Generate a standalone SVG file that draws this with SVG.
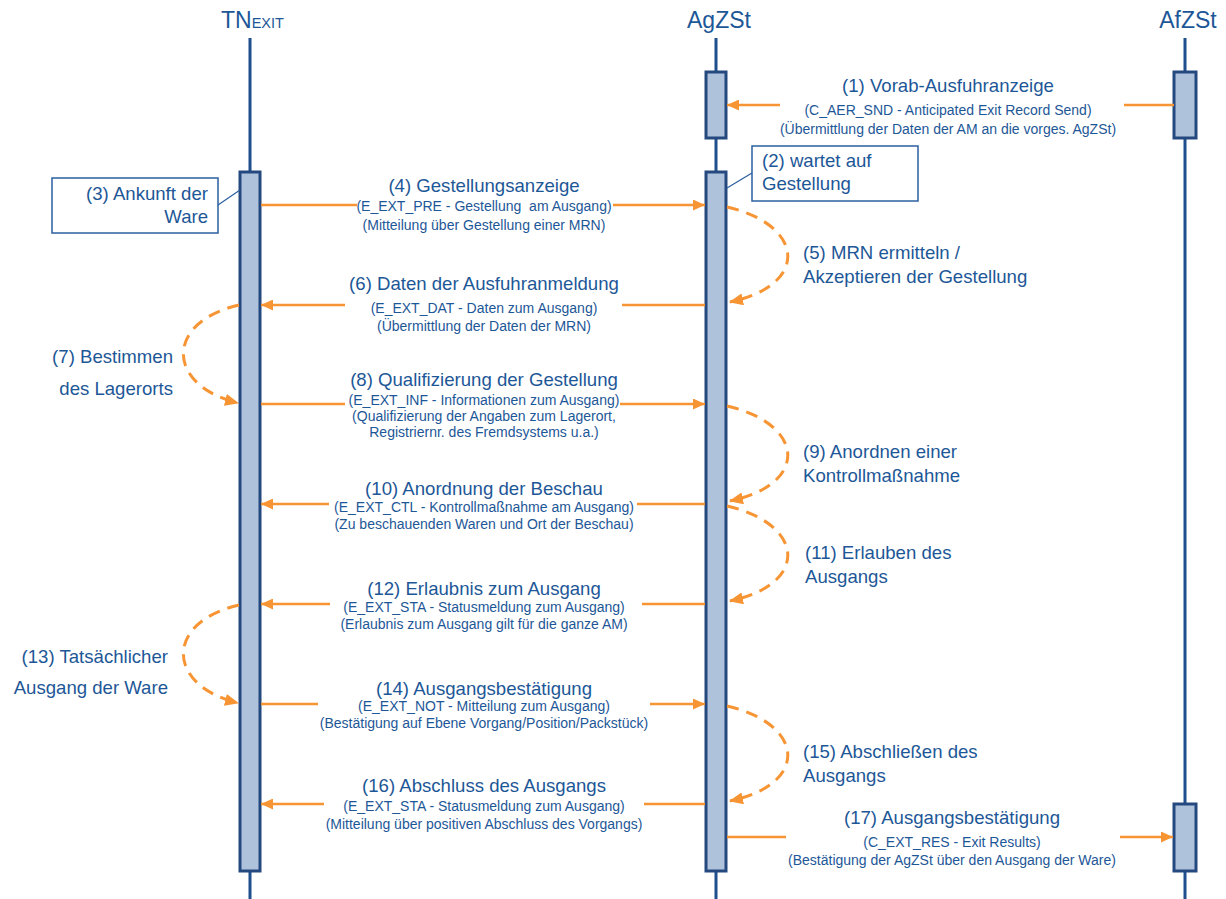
<svg xmlns="http://www.w3.org/2000/svg" width="1226" height="899" viewBox="0 0 1226 899">
<defs>
<marker id="ah" viewBox="0 0 12 11" refX="12" refY="5.5" markerWidth="12" markerHeight="11" markerUnits="userSpaceOnUse" orient="auto">
<path d="M0,0 L12,5.5 L0,11 Z" fill="#f79433"/>
</marker>
<marker id="ahd" viewBox="0 0 14 12" refX="13" refY="6" markerWidth="14" markerHeight="12" markerUnits="userSpaceOnUse" orient="auto">
<path d="M0,0 L14,6 L0,12 Z" fill="#f79433"/>
</marker>
<style>
text{font-family:"Liberation Sans",Arial,sans-serif;fill:#1d5797}
.hd{font-size:23px;text-anchor:middle}
.m{font-size:18.6px;text-anchor:middle}
.s{font-size:14px;text-anchor:middle}
.l{font-size:18.6px}
.r{font-size:18.6px;text-anchor:end}
.life{stroke:#1f4f8c;stroke-width:3;fill:none}
.bar{fill:#afc2dc;stroke:#24497f;stroke-width:3}
.msg{stroke:#f79433;stroke-width:2.5;fill:none}
.loop{stroke:#f79433;stroke-width:3;fill:none;stroke-dasharray:12 8}
.note{fill:#fff;stroke:#2a5fa0;stroke-width:1.5}
.nl{stroke:#2a5fa0;stroke-width:1.2}
</style>
</defs>
<rect width="1226" height="899" fill="#fff"/>

<g id="lifeline-tn">
<text x="221" y="28" style="font-size:23px">TN<tspan style="font-size:14.5px">EXIT</tspan></text>
<line class="life" x1="250" y1="38" x2="250" y2="899"/>
<rect class="bar" x="240" y="172" width="20" height="699"/>
</g>
<g id="lifeline-agzst">
<text class="hd" x="719" y="28">AgZSt</text>
<line class="life" x1="716" y1="38" x2="716" y2="899"/>
<rect class="bar" x="706" y="72" width="20" height="66"/>
<rect class="bar" x="706" y="172" width="20" height="699"/>
</g>
<g id="lifeline-afzst">
<text class="hd" x="1188" y="28">AfZSt</text>
<line class="life" x1="1185" y1="38" x2="1185" y2="899"/>
<rect class="bar" x="1174" y="72" width="22" height="66"/>
<rect class="bar" x="1174" y="804" width="22" height="67"/>
</g>

<g id="note-2">
<line class="nl" x1="752" y1="173" x2="727" y2="188"/>
<rect class="note" x="752" y="146" width="166" height="55"/>
<text class="l" x="762" y="167">(2) wartet auf</text>
<text class="l" x="762" y="190">Gestellung</text>
</g>
<g id="note-3">
<line class="nl" x1="218" y1="205" x2="240" y2="190"/>
<rect class="note" x="52" y="178" width="166" height="55"/>
<text class="r" x="208" y="200">(3) Ankunft der</text>
<text class="r" x="208" y="223">Ware</text>
</g>

<g id="connectors">
<!-- (1) -->
<line class="msg" x1="1174" y1="105" x2="1124" y2="105"/>
<line class="msg" x1="780" y1="105" x2="727" y2="105" marker-end="url(#ah)"/>
<!-- (4) -->
<line class="msg" x1="261" y1="205" x2="357" y2="205"/>
<line class="msg" x1="613" y1="205" x2="705" y2="205" marker-end="url(#ah)"/>
<!-- (6) -->
<line class="msg" x1="705" y1="305" x2="622" y2="305"/>
<line class="msg" x1="345" y1="305" x2="261" y2="305" marker-end="url(#ah)"/>
<!-- (8) -->
<line class="msg" x1="261" y1="404" x2="345" y2="404"/>
<line class="msg" x1="620" y1="404" x2="705" y2="404" marker-end="url(#ah)"/>
<!-- (10) -->
<line class="msg" x1="705" y1="504" x2="637" y2="504"/>
<line class="msg" x1="329" y1="504" x2="261" y2="504" marker-end="url(#ah)"/>
<!-- (12) -->
<line class="msg" x1="705" y1="604" x2="642" y2="604"/>
<line class="msg" x1="330" y1="604" x2="261" y2="604" marker-end="url(#ah)"/>
<!-- (14) -->
<line class="msg" x1="261" y1="704" x2="318" y2="704"/>
<line class="msg" x1="650" y1="704" x2="705" y2="704" marker-end="url(#ah)"/>
<!-- (16) -->
<line class="msg" x1="705" y1="804" x2="644" y2="804"/>
<line class="msg" x1="324" y1="804" x2="261" y2="804" marker-end="url(#ah)"/>
<!-- (17) -->
<line class="msg" x1="727" y1="837" x2="786" y2="837"/>
<line class="msg" x1="1120" y1="837" x2="1173" y2="837" marker-end="url(#ah)"/>
<!-- loops -->
<path class="loop" d="M727,207 C805,225 810,285 730,302" marker-end="url(#ahd)"/>
<path class="loop" d="M239,305 C165,322 165,385 238,403" marker-end="url(#ahd)"/>
<path class="loop" d="M727,406 C805,424 810,484 730,501" marker-end="url(#ahd)"/>
<path class="loop" d="M727,506 C805,524 810,584 730,601" marker-end="url(#ahd)"/>
<path class="loop" d="M239,605 C165,622 165,685 238,703" marker-end="url(#ahd)"/>
<path class="loop" d="M727,706 C805,724 810,784 730,801" marker-end="url(#ahd)"/>
</g>

<g id="labels">
<g id="msg-1">
<text class="m" x="948" y="92">(1) Vorab-Ausfuhranzeige</text>
<text class="s" x="948" y="115">(C_AER_SND - Anticipated Exit Record Send)</text>
<text class="s" x="948" y="134">(Übermittlung der Daten der AM an die vorges. AgZSt)</text>
</g>
<g id="msg-4">
<text class="m" x="484" y="192">(4) Gestellungsanzeige</text>
<text class="s" x="484" y="211" xml:space="preserve">(E_EXT_PRE - Gestellung  am Ausgang)</text>
<text class="s" x="484" y="230">(Mitteilung über Gestellung einer MRN)</text>
</g>
<g id="msg-6">
<text class="m" x="484" y="290">(6) Daten der Ausfuhranmeldung</text>
<text class="s" x="484" y="313">(E_EXT_DAT - Daten zum Ausgang)</text>
<text class="s" x="484" y="331">(Übermittlung der Daten der MRN)</text>
</g>
<g id="msg-8">
<text class="m" x="484" y="386">(8) Qualifizierung der Gestellung</text>
<text class="s" x="484" y="405">(E_EXT_INF - Informationen zum Ausgang)</text>
<text class="s" x="484" y="421">(Qualifizierung der Angaben zum Lagerort,</text>
<text class="s" x="484" y="437">Registriernr. des Fremdsystems u.a.)</text>
</g>
<g id="msg-10">
<text class="m" x="484" y="495">(10) Anordnung der Beschau</text>
<text class="s" x="484" y="512">(E_EXT_CTL - Kontrollmaßnahme am Ausgang)</text>
<text class="s" x="484" y="529">(Zu beschauenden Waren und Ort der Beschau)</text>
</g>
<g id="msg-12">
<text class="m" x="484" y="595">(12) Erlaubnis zum Ausgang</text>
<text class="s" x="484" y="612">(E_EXT_STA - Statusmeldung zum Ausgang)</text>
<text class="s" x="484" y="629">(Erlaubnis zum Ausgang gilt für die ganze AM)</text>
</g>
<g id="msg-14">
<text class="m" x="484" y="695">(14) Ausgangsbestätigung</text>
<text class="s" x="484" y="711">(E_EXT_NOT - Mitteilung zum Ausgang)</text>
<text class="s" x="484" y="728">(Bestätigung auf Ebene Vorgang/Position/Packstück)</text>
</g>
<g id="msg-16">
<text class="m" x="484" y="792">(16) Abschluss des Ausgangs</text>
<text class="s" x="484" y="811">(E_EXT_STA - Statusmeldung zum Ausgang)</text>
<text class="s" x="484" y="829">(Mitteilung über positiven Abschluss des Vorgangs)</text>
</g>
<g id="msg-17">
<text class="m" x="952" y="824">(17) Ausgangsbestätigung</text>
<text class="s" x="952" y="847">(C_EXT_RES - Exit Results)</text>
<text class="s" x="952" y="865">(Bestätigung der AgZSt über den Ausgang der Ware)</text>
</g>
<g id="loop-5">
<text class="l" x="803" y="259">(5) MRN ermitteln /</text>
<text class="l" x="803" y="283">Akzeptieren der Gestellung</text>
</g>
<g id="loop-7">
<text class="r" x="173" y="363">(7) Bestimmen</text>
<text class="r" x="173" y="395">des Lagerorts</text>
</g>
<g id="loop-9">
<text class="l" x="803" y="458">(9) Anordnen einer</text>
<text class="l" x="803" y="482">Kontrollmaßnahme</text>
</g>
<g id="loop-11">
<text class="l" x="805" y="559">(11) Erlauben des</text>
<text class="l" x="805" y="583">Ausgangs</text>
</g>
<g id="loop-13">
<text class="r" x="168" y="663">(13) Tatsächlicher</text>
<text class="r" x="168" y="694">Ausgang der Ware</text>
</g>
<g id="loop-15">
<text class="l" x="803" y="758">(15) Abschließen des</text>
<text class="l" x="803" y="782">Ausgangs</text>
</g>
</g>
</svg>
